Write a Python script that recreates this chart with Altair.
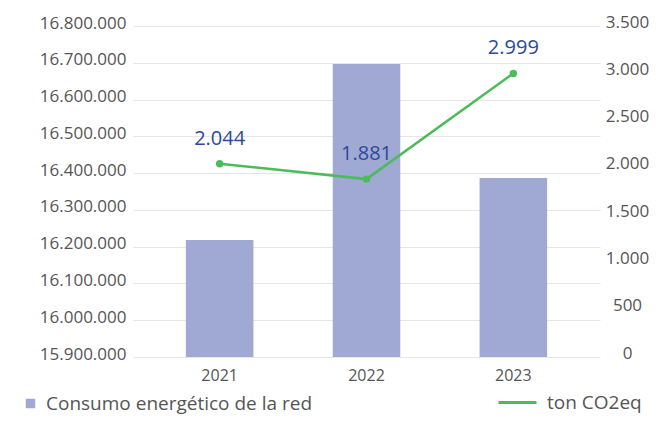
import altair as alt
import pandas as pd

years = ["2021", "2022", "2023"]
consumo = [16218000, 16697000, 16387000]
co2 = [2044, 1881, 2999]
co2_labels = ["2.044", "1.881", "2.999"]

df = pd.DataFrame({"year": years, "consumo": consumo, "co2": co2, "lbl": co2_labels})

FONT = "Open Sans"
GRAY = "#555555"

x = alt.X("year:N", title=None,
          scale=alt.Scale(paddingInner=0.54, paddingOuter=0.36),
          axis=alt.Axis(labelAngle=0, domain=False, ticks=False, labelPadding=10,
                        labelFontSize=16, labelColor=GRAY, labelFont=FONT))

bars = alt.Chart(df).mark_bar(color="#A0A8D4").encode(
    x=x,
    y=alt.Y("consumo:Q", title=None,
            scale=alt.Scale(domain=[15900000, 16800000], zero=False, clamp=True, nice=False),
            axis=alt.Axis(orient="left", values=list(range(15900000, 16800001, 100000)),
                          labelExpr="replace(format(datum.value, ','), regexp(',', 'g'), '.')",
                          domain=False, ticks=False, tickSize=0, labelPadding=7, labelOffset=-3,
                          grid=True, gridColor="#E6E6E6", gridWidth=1.2,
                          labelFontSize=17, labelColor=GRAY, labelFont=FONT)),
    fill=alt.Fill("s:N", scale=alt.Scale(range=["#A0A8D4"]),
                  legend=alt.Legend(title=None, orient="none", legendX=-112, legendY=368,
                                    symbolType="square", symbolSize=90, symbolStrokeWidth=0,
                                    labelOffset=6, padding=0, labelFontSize=19, labelLimit=500,
                                    labelColor=GRAY, labelFont=FONT)),
).transform_calculate(s="'Consumo energético de la red'")

yr = alt.Y("co2:Q", title=None,
           scale=alt.Scale(domain=[0, 3500], nice=False),
           axis=alt.Axis(orient="right", values=list(range(0, 3501, 500)),
                         labelExpr="replace(format(datum.value, ','), regexp(',', 'g'), '.')",
                         domain=False, ticks=False, tickSize=0, grid=False,
                         labelAlign="center", labelPadding=27, labelOffset=-4,
                         labelFontSize=17, labelColor=GRAY, labelFont=FONT))

line = alt.Chart(df).mark_line(strokeWidth=2.5, color="#4CBB5A").encode(
    x=x, y=yr,
    stroke=alt.Stroke("s:N", scale=alt.Scale(range=["#4CBB5A"]),
                      legend=alt.Legend(title=None, orient="none", legendX=364, legendY=356,
                                        symbolType="stroke", symbolSize=1444, symbolStrokeWidth=3,
                                        labelOffset=9, padding=0, labelFontSize=19, labelLimit=500,
                                        labelColor=GRAY, labelFont=FONT)),
).transform_calculate(s="'ton CO2eq'")

pts = alt.Chart(df).mark_circle(size=55, color="#4CBB5A", opacity=1).encode(x=x, y=yr)

txt = alt.Chart(df).mark_text(fontSize=20, color="#2E4999", font=FONT, dy=-25, baseline="middle").encode(
    x=x, y=yr, text="lbl:N")

right = alt.layer(line, pts, txt)

chart = alt.layer(bars, right).resolve_scale(y="independent", fill="independent", stroke="independent").properties(
    width=467, height=331,
    autosize=alt.AutoSizeParams(type="none"),
    padding={"left": 125, "top": 18, "right": 51, "bottom": 57},
).configure_view(stroke=None)

chart.save("out.html", embed_options={"renderer": "svg", "actions": False})
